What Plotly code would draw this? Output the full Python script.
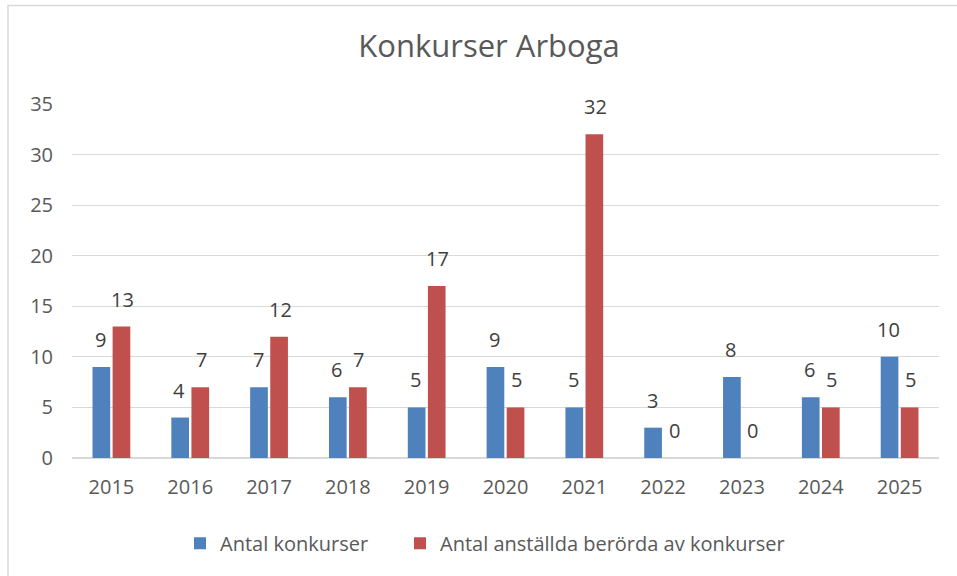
import plotly.graph_objects as go

years = ["2015", "2016", "2017", "2018", "2019", "2020", "2021", "2022", "2023", "2024", "2025"]
antal_konkurser = [9, 4, 7, 6, 5, 9, 5, 3, 8, 6, 10]
antal_anstallda = [13, 7, 12, 7, 17, 5, 32, 0, 0, 5, 5]
y_ticks = [0, 5, 10, 15, 20, 25, 30, 35]

BLUE = "#4F81BD"
RED = "#C0504D"
TXT = "#595959"
GRID = "#D9D9D9"
FONT = "Open Sans"

fig = go.Figure()
fig.add_trace(go.Bar(x=years, y=antal_konkurser, name="Antal konkurser",
                     marker=dict(color=BLUE, line=dict(width=0)), legend="legend"))
fig.add_trace(go.Bar(x=years, y=antal_anstallda, name="Antal anställda berörda av konkurser",
                     marker=dict(color=RED, line=dict(width=0)), legend="legend2"))

annotations = []
for series, shift in ((antal_konkurser, -11), (antal_anstallda, 11)):
    for i, yv in enumerate(series):
        annotations.append(dict(x=i, y=yv, xref="x", yref="y", text=str(yv),
                                showarrow=False, xanchor="center", yanchor="bottom",
                                xshift=shift, yshift=12,
                                font=dict(family=FONT, size=20, color="#404040")))

legend_common = dict(orientation="h", xanchor="left", y=-0.241, yanchor="middle",
                     font=dict(family=FONT, size=20, color=TXT), bgcolor="rgba(0,0,0,0)")

fig.update_layout(
    width=957, height=576,
    paper_bgcolor="white", plot_bgcolor="white",
    margin=dict(l=72, r=18, t=103.5, b=118.3, pad=0, autoexpand=False),
    barmode="group", bargap=0.49, bargroupgap=0.12,
    title=dict(text="Konkurser Arboga", x=489/957, xanchor="center", xref="container",
               y=1 - 46/576, yanchor="middle", yref="container",
               font=dict(family=FONT, size=31, color=TXT)),
    font=dict(family=FONT, size=20, color=TXT),
    showlegend=True,
    legend=dict(x=(180 - 72) / 867, **legend_common),
    legend2=dict(x=(400 - 72) / 867, **legend_common),
    annotations=annotations,
    shapes=[dict(type="rect", xref="paper", yref="paper",
                 x0=(8 - 72) / 867, x1=(960 - 72) / 867,
                 y0=(457.7 - 580) / 354.2, y1=(457.7 - 5) / 354.2,
                 line=dict(color=GRID, width=1.5), fillcolor="rgba(0,0,0,0)", layer="below")],
)
fig.update_yaxes(range=[0, 35], tickvals=y_ticks, showgrid=True, gridcolor=GRID, gridwidth=1,
                 zeroline=True, zerolinecolor=GRID, zerolinewidth=1.5, showline=False,
                 ticks="", ticklabelstandoff=18, tickfont=dict(family=FONT, size=20, color=TXT))
fig.update_xaxes(type="category", range=[-0.5, len(years) - 0.5], showgrid=False, showline=False,
                 ticks="", ticklabelstandoff=15,
                 tickfont=dict(family=FONT, size=20, color=TXT))

fig.write_html("out.html", post_script="document.body.style.margin='0px';",
               config={"displayModeBar": False})
